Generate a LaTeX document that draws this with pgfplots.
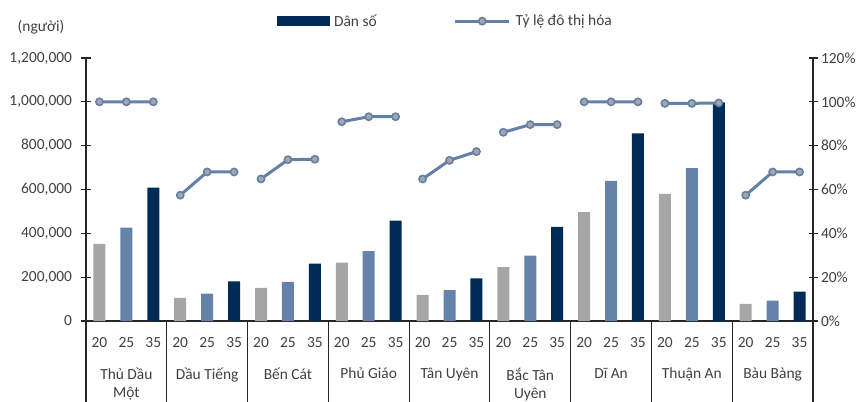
\documentclass[border=0pt]{standalone}
\usepackage{pgfplots}
\pgfplotsset{compat=1.18}
\usepackage{pgfplotstable}
\usepackage{fontspec}
\setmainfont{Carlito}

\definecolor{barGray}{HTML}{A6A6A6}
\definecolor{barBlue}{HTML}{6583A9}
\definecolor{barNavy}{HTML}{002B56}
\definecolor{lineBlue}{HTML}{6280A8}
\definecolor{txt}{HTML}{404040}
\definecolor{axisc}{HTML}{262626}

% Population by district (x = bar slot, 3 slots per district)
\pgfplotstableread{
x pop
0 352000
3 105000
6 151000
9 266000
12 119000
15 246000
18 497000
21 580000
24 78000
}\popA
\pgfplotstableread{
x pop
1 426000
4 125000
7 178000
10 319000
13 141000
16 298000
19 639000
22 698000
25 93000
}\popB
\pgfplotstableread{
x pop
2 608000
5 181000
8 262000
11 458000
14 195000
17 429000
20 856000
23 998000
26 134000
}\popC
% Urbanisation rate (%), one segment per district
\pgfplotstableread{
x pct
0 100
1 100
2 100
2.5 nan
3 57.4
4 68
5 68
5.5 nan
6 64.8
7 73.6
8 73.8
8.5 nan
9 90.9
10 93.2
11 93.2
11.5 nan
12 64.8
13 73.3
14 77.3
14.5 nan
15 86.1
16 89.6
17 89.6
17.5 nan
18 100
19 100
20 100
20.5 nan
21 99.3
22 99.3
23 99.5
23.5 nan
24 57.4
25 68
26 68
}\urb

\newcommand\fs{\fontsize{15.5}{17}\selectfont}

\pgfplotsset{
  base/.style={
    at={(86bp,80bp)}, anchor=south west,
    scale only axis, width=727bp, height=263bp,
    xmin=-0.5, xmax=26.5,
    clip=false,
    tick align=center, major tick length=9bp,
    axis line style={-, draw=axisc, line width=1.1bp},
    tick style={draw=axisc, line width=1.1bp},
    ticklabel style={font=\fs, text=txt},
    /pgf/number format/assume math mode=true,
  },
  barleg/.style={legend image code/.code={\fill[barNavy] (0bp,-4.5bp) rectangle (52bp,4.5bp);\path (55bp,0bp);}},
  urbleg/.style={legend image code/.code={\draw[mark repeat=2,mark phase=2,##1] plot coordinates {(0bp,0bp) (27bp,0bp) (54bp,0bp)};\path (57bp,0bp);}},
}

\begin{document}
\begin{tikzpicture}[x=1bp,y=1bp]
\path[use as bounding box] (0,0) rectangle (866,401);
\node[font=\fs, text=txt] at (41,374) {(người)};

\begin{axis}[base,
  axis lines*=left,
  ymin=0, ymax=1200000,
  ytick={0,200000,400000,600000,800000,1000000,1200000},
  scaled y ticks=false,
  /pgf/number format/fixed,
  /pgf/number format/1000 sep={,},
  yticklabel style={xshift=-6bp},
  xtick={0,...,26},
  xticklabels={20,25,35,20,25,35,20,25,35,20,25,35,20,25,35,20,25,35,20,25,35,20,25,35,20,25,35},
  x tick style={draw=none},
  xticklabel style={yshift=-8bp},
]
\addplot[ybar, bar shift=0pt, bar width=12bp, fill=barGray, draw=none] table[x=x,y=pop] {\popA};
\addplot[ybar, bar shift=0pt, bar width=12bp, fill=barBlue, draw=none] table[x=x,y=pop] {\popB};
\addplot[ybar, bar shift=0pt, bar width=12bp, fill=barNavy, draw=none] table[x=x,y=pop] {\popC};

% district separators below the category axis
\draw[axisc, line width=1.1bp] (axis cs:-0.5,0) -- ++(0bp,-81bp);
\draw[axisc, line width=1.1bp] (axis cs:2.5,0) -- ++(0bp,-81bp);
\draw[axisc, line width=1.1bp] (axis cs:5.5,0) -- ++(0bp,-81bp);
\draw[axisc, line width=1.1bp] (axis cs:8.5,0) -- ++(0bp,-81bp);
\draw[axisc, line width=1.1bp] (axis cs:11.5,0) -- ++(0bp,-81bp);
\draw[axisc, line width=1.1bp] (axis cs:14.5,0) -- ++(0bp,-81bp);
\draw[axisc, line width=1.1bp] (axis cs:17.5,0) -- ++(0bp,-81bp);
\draw[axisc, line width=1.1bp] (axis cs:20.5,0) -- ++(0bp,-81bp);
\draw[axisc, line width=1.1bp] (axis cs:23.5,0) -- ++(0bp,-81bp);
\draw[axisc, line width=1.1bp] (axis cs:26.5,0) -- ++(0bp,-81bp);
\begin{scope}[every node/.style={anchor=north, inner sep=0pt, align=center,
    font=\fontsize{15.5}{18}\selectfont, text=txt}]
\node at ([yshift=-47bp]axis cs:1,0) {Thủ Dầu\\Một};
\node at ([yshift=-47bp]axis cs:4,0) {Dầu Tiếng};
\node at ([yshift=-47bp]axis cs:7,0) {Bến Cát};
\node at ([yshift=-47bp]axis cs:10,0) {Phủ Giáo};
\node at ([yshift=-47bp]axis cs:13,0) {Tân Uyên};
\node at ([yshift=-47bp]axis cs:16,0) {Bắc Tân\\Uyên};
\node at ([yshift=-47bp]axis cs:19,0) {Dĩ An};
\node at ([yshift=-47bp]axis cs:22,0) {Thuận An};
\node at ([yshift=-47bp]axis cs:25,0) {Bàu Bàng};
\end{scope}
\end{axis}

\begin{axis}[base,
  axis x line=none,
  axis y line*=right,
  ymin=0, ymax=120,
  ytick={0,20,...,120},
  yticklabel={\pgfmathprintnumber{\tick}\%},
  unbounded coords=jump,
  legend columns=2,
  legend style={at={(axis description cs:0.262,1.14)}, anchor=west,
    draw=none, fill=none, inner sep=0pt,
    font=\fs, text=txt,
    /tikz/every even column/.append style={column sep=75bp}},
]
\addlegendimage{barleg}
\addlegendentry{Dân số}
\addplot[urbleg, draw=lineBlue, line width=3bp, mark=*, mark size=3.6bp,
  mark options={fill=barGray, draw=lineBlue, line width=1.6bp}]
  table[x=x,y=pct] {\urb};
\addlegendentry{Tỷ lệ đô thị hóa}
\end{axis}
\end{tikzpicture}
\end{document}
